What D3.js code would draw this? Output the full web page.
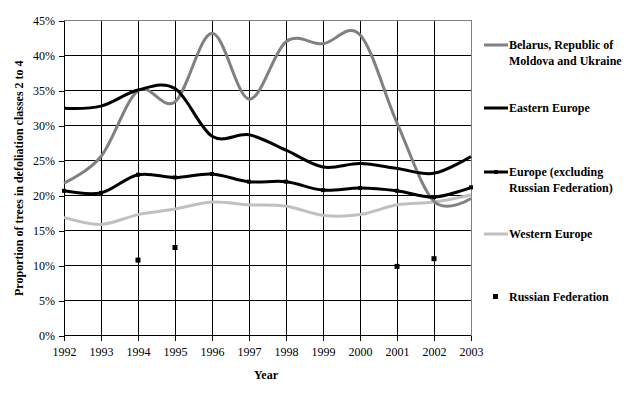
<!DOCTYPE html>
<html>
<head>
<meta charset="utf-8">
<title>Defoliation chart</title>
<script src="https://d3js.org/d3.v7.min.js"></script>
<style>
  body { margin: 0; background: #fff; }
  svg text { font-family: "Liberation Serif", "Times New Roman", Times, serif !important; }
  .tick text { font-size: 12px; }
  .legend text { font-size: 12px; font-weight: bold; }
  .title { font-size: 12px; font-weight: bold; }
</style>
</head>
<body>
<div id="chart"></div>
<script>
const years = [1992, 1993, 1994, 1995, 1996, 1997, 1998, 1999, 2000, 2001, 2002, 2003];
const belarus = [21.8, 25.6, 35.0, 33.4, 43.2, 33.8, 42.0, 41.7, 43.0, 30.4, 19.2, 19.6];
const eastern = [32.5, 32.8, 35.1, 35.3, 28.5, 28.7, 26.5, 24.1, 24.6, 23.9, 23.2, 25.6];
const europe = [20.7, 20.4, 23.0, 22.6, 23.1, 22.0, 22.0, 20.8, 21.1, 20.7, 19.8, 21.2];
const western = [16.9, 15.9, 17.3, 18.1, 19.1, 18.7, 18.5, 17.2, 17.3, 18.7, 19.1, 20.1];
const russia = [null, null, 10.8, 12.6, null, null, null, null, null, 9.9, 11.0, null];
const yTicks = [0, 5, 10, 15, 20, 25, 30, 35, 40, 45];

const width = 642, height = 394;
const pLeft = 64, pRight = 471, pTop = 20.7, pBottom = 335.7;

const svg = d3.select('#chart').append('svg')
  .attr('width', width)
  .attr('height', height);

const x = d3.scaleLinear().domain([1992, 2003]).range([pLeft, pRight]);
const y = d3.scaleLinear().domain([0, 45]).range([pBottom, pTop]);

// grid
svg.append('g').selectAll('line').data(years.slice(1, -1)).join('line')
  .attr('x1', d => x(d)).attr('x2', d => x(d))
  .attr('y1', pTop).attr('y2', pBottom)
  .attr('stroke', '#000').attr('stroke-width', 1).attr('shape-rendering', 'crispEdges');
svg.append('g').selectAll('line').data(yTicks.slice(1, -1)).join('line')
  .attr('x1', pLeft).attr('x2', pRight)
  .attr('y1', d => y(d)).attr('y2', d => y(d))
  .attr('stroke', '#000').attr('stroke-width', 1).attr('shape-rendering', 'crispEdges');

// plot border top / right (gray)
svg.append('path')
  .attr('d', `M${pLeft},${pTop}H${pRight}V${pBottom}`)
  .attr('fill', 'none').attr('stroke', '#808080').attr('shape-rendering', 'crispEdges');

// axes
const xAxis = svg.append('g')
  .attr('transform', `translate(0,${pBottom})`)
  .call(d3.axisBottom(x).tickValues(years).tickFormat(d3.format('d')).tickSize(5).tickPadding(7));
const yAxis = svg.append('g')
  .attr('transform', `translate(${pLeft},0)`)
  .call(d3.axisLeft(y).tickValues(yTicks).tickFormat(d => d + '%').tickSize(5).tickPadding(4));
[xAxis, yAxis].forEach(a => {
  a.attr('font-family', null);
  a.select('.domain').attr('stroke', '#000').attr('shape-rendering', 'crispEdges');
  a.selectAll('.tick line').attr('stroke', '#000').attr('shape-rendering', 'crispEdges');
  a.selectAll('.tick text').attr('fill', '#000').attr('font-size', 12);
});
xAxis.select('.domain').attr('d', `M${pLeft},0H${pRight}`);
yAxis.select('.domain').attr('d', `M0,${y(0)}V${y(45)}`);

const line = d3.line()
  .x((d, i) => x(years[i]))
  .y(d => y(d))
  .curve(d3.curveCardinal.tension(0));

const series = [
  { name: ['Belarus, Republic of', 'Moldova and Ukraine'], values: belarus, color: '#808080', w: 3, ly: 45 },
  { name: ['Eastern Europe'], values: eastern, color: '#000', w: 3, ly: 108 },
  { name: ['Europe (excluding', 'Russian Federation)'], values: europe, color: '#000', w: 3, ly: 172, marker: true },
  { name: ['Western Europe'], values: western, color: '#c0c0c0', w: 3, ly: 234 }
];

// western first so the others sit on top of it
[series[3], series[0], series[1], series[2]].forEach(s => {
  svg.append('path')
    .attr('d', line(s.values))
    .attr('fill', 'none')
    .attr('stroke', s.color)
    .attr('stroke-width', s.w)
    .attr('stroke-linejoin', 'round');
  if (s.marker) {
    svg.append('g').selectAll('rect').data(s.values).join('rect')
      .attr('x', (d, i) => x(years[i]) - 2)
      .attr('y', d => y(d) - 2)
      .attr('width', 4).attr('height', 4)
      .attr('fill', '#000');
  }
});

// russian federation points
svg.append('g').selectAll('rect')
  .data(years.map((yr, i) => ({ yr, v: russia[i] })).filter(d => d.v !== null))
  .join('rect')
  .attr('x', d => x(d.yr) - 2.5)
  .attr('y', d => y(d.v) - 2.5)
  .attr('width', 5).attr('height', 5)
  .attr('fill', '#000');

// legend
const legend = svg.append('g').attr('class', 'legend');
series.forEach(s => {
  legend.append('line')
    .attr('x1', 484).attr('x2', 508)
    .attr('y1', s.ly).attr('y2', s.ly)
    .attr('stroke', s.color).attr('stroke-width', 3);
  if (s.marker) {
    legend.append('rect').attr('x', 494).attr('y', s.ly - 2)
      .attr('width', 4).attr('height', 4).attr('fill', '#000');
  }
  s.name.forEach((t, j) => {
    legend.append('text')
      .attr('x', 509).attr('y', s.ly + 4 + j * 16)
      .text(t);
  });
});
legend.append('rect').attr('x', 493).attr('y', 294).attr('width', 5).attr('height', 5).attr('fill', '#000');
legend.append('text').attr('x', 509).attr('y', 301).text('Russian Federation');

// titles
svg.append('text').attr('class', 'title')
  .attr('x', 266).attr('y', 379)
  .attr('text-anchor', 'middle')
  .text('Year');
svg.append('text').attr('class', 'title')
  .attr('transform', `translate(23,${(pTop + pBottom) / 2}) rotate(-90)`)
  .attr('text-anchor', 'middle')
  .text('Proportion of trees in defoliation classes 2 to 4');
</script>
</body>
</html>
